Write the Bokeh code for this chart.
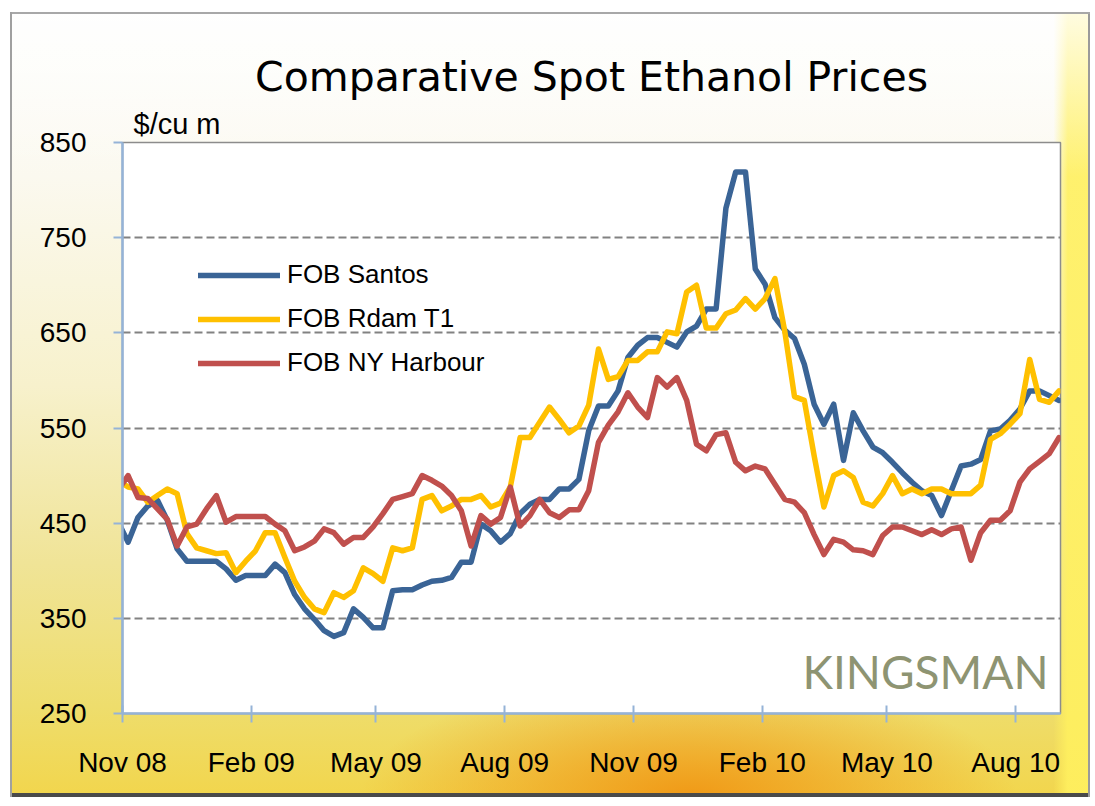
import pandas as pd
from bokeh.plotting import figure
from bokeh.models import FixedTicker, DatetimeTickFormatter, Legend, Label, Title, Range1d
from bokeh.embed import file_html
from bokeh.resources import INLINE
from bokeh.core.properties import value

# ---------------- data ----------------
title_text = "Comparative Spot Ethanol Prices"
unit_text = "$/cu m"
watermark_text = "KINGSMAN"
series_names = ["FOB Santos", "FOB Rdam T1", "FOB NY Harbour"]
first_week = "2008-10-29"   # weekly observations

santos = [451, 430, 456, 468, 474, 453, 423, 410, 410, 410,
          410, 402, 390, 395, 395, 395, 407, 398, 375, 360,
          349, 337, 331, 335, 360, 351, 340, 340, 379, 380,
          380, 385, 389, 390, 393, 409, 409, 449, 442, 430,
          439, 460, 470, 475, 475, 486, 486, 496, 547, 573,
          573, 589, 624, 637, 645, 645, 640, 635, 651, 657,
          675, 675, 781, 819, 819, 717, 701, 666, 653, 644,
          617, 575, 554, 575, 516, 566, 547, 530, 524, 514,
          503, 493, 484, 479, 458, 484, 510, 512, 517, 547,
          549, 558, 570, 589, 589, 584, 579]

rdam = [495, 488, 486, 472, 479, 486, 481, 439, 424, 421,
        418, 419, 398, 410, 421, 440, 440, 414, 389, 372,
        360, 356, 377, 372, 379, 403, 397, 389, 424, 421,
        424, 475, 479, 463, 468, 475, 475, 479, 467, 471,
        488, 540, 540, 556, 572, 559, 545, 552, 574, 633,
        601, 604, 621, 621, 630, 630, 651, 649, 693, 700,
        655, 655, 670, 674, 686, 675, 686, 707, 652, 583,
        579, 521, 467, 500, 505, 498, 472, 468, 481, 500,
        481, 486, 481, 486, 486, 481, 481, 481, 490, 538,
        544, 554, 565, 622, 580, 577, 589]

nyh = [485, 500, 477, 476, 465, 454, 426, 446, 449, 465,
       479, 451, 457, 457, 457, 457, 449, 442, 421, 425,
       431, 444, 440, 428, 435, 435, 446, 460, 475, 478,
       481, 500, 495, 489, 479, 463, 426, 458, 449, 456,
       488, 447, 458, 475, 461, 456, 464, 464, 484, 535,
       553, 567, 587, 572, 561, 603, 593, 603, 579, 533,
       526, 543, 545, 514, 505, 510, 507, 491, 475, 472,
       461, 438, 417, 433, 430, 422, 421, 417, 437, 446,
       446, 442, 438, 443, 438, 444, 446, 411, 440, 453,
       453, 463, 493, 507, 515, 523, 540]

y_ticks = [250, 350, 450, 550, 650, 750, 850]
x_tick_labels = ["Nov 08", "Feb 09", "May 09", "Aug 09",
                 "Nov 09", "Feb 10", "May 10", "Aug 10"]

series_colors = ["#3A6496", "#FFC000", "#C0504D"]

# ---------------- derived ----------------
dates = pd.date_range(first_week, periods=len(santos), freq="7D")
tick_dates = [pd.to_datetime(t, format="%b %y") for t in x_tick_labels]
tick_ms = [d.value / 1e6 for d in tick_dates]

TICK_FONT = "Liberation Sans"

p = figure(
    width=1094, height=804,
    x_axis_type="datetime",
    x_range=Range1d(tick_dates[0], dates[-1] + pd.Timedelta(days=1)),
    y_range=Range1d(y_ticks[0], y_ticks[-1]),
    output_backend="svg", toolbar_location=None,
    min_border_left=122, min_border_right=34,
    min_border_top=142, min_border_bottom=91,
)

# backgrounds
p.border_fill_color = None
p.background_fill_color = "white"
p.outline_line_color = "#8C8C8C"
p.outline_line_width = 1.5
p.styles = {
    "background-image": (
        "radial-gradient(ellipse 30% 15% at 63% 99%, rgba(240,150,20,0.95), rgba(243,170,30,0) 100%), "
        "linear-gradient(to bottom, rgba(255,255,255,0.85) 0%, rgba(255,255,255,0) 22%), "
        "linear-gradient(to right, rgba(255,245,120,0) 96.3%, rgba(255,240,95,0.9) 97.6%, rgba(255,240,95,0.9) 100%), "
        "linear-gradient(to bottom, #fdfdfb 0%, #fbf9ef 22%, #f7f1cc 48%, #f0e497 70%, #eedd6c 88%, #f2d54a 100%)"
    ),
    "box-shadow": (
        "inset 10px 0 0 0 #ffffff, inset 0 12px 0 0 #ffffff, "
        "inset -4px 0 0 0 #ffffff, inset 0 -7px 0 0 #ffffff, "
        "inset 12px 0 0 0 #a0a0a0, inset 0 14px 0 0 #a8a8a8, "
        "inset -6px 0 0 0 #9a9a9a, inset 0 -11px 0 0 #4a4a4a"
    ),
}

# lines
for vals, name, col in zip([santos, rdam, nyh], series_names, series_colors):
    p.line(dates, vals, line_color=col, line_width=5.5,
           line_join="round", line_cap="round", legend_label=name)

# title + unit
p.title.text = title_text
p.title.align = "center"
p.title.text_font = "DejaVu Sans"
p.title.text_font_size = "41px"
p.title.text_font_style = "normal"
p.title.text_color = "black"
p.title.standoff = 4

unit = Title(text=unit_text, align="left", offset=11,
             text_font=TICK_FONT, text_font_size="29px",
             text_font_style="normal", text_color="black", standoff=6)
p.add_layout(unit, "above")

# axes
for ax in (p.xaxis[0], p.yaxis[0]):
    ax.axis_line_color = "#95B3D7"
    ax.axis_line_width = 2.5
    ax.major_tick_line_color = "#95B3D7"
    ax.major_tick_line_width = 2
    ax.minor_tick_line_color = None
    ax.major_label_text_font = TICK_FONT
    ax.major_label_text_font_size = "28px"
    ax.major_label_text_color = "black"

p.yaxis.ticker = FixedTicker(ticks=y_ticks)
p.yaxis.major_tick_in = 0
p.yaxis.major_tick_out = 9
p.yaxis.major_label_standoff = 27

p.xaxis.ticker = FixedTicker(ticks=tick_ms)
p.xaxis.formatter = DatetimeTickFormatter(
    months="%b %y", days="%b %y", years="%b %y", hours="%b %y")
p.xaxis.major_tick_in = 8
p.xaxis.major_tick_out = 9
p.xaxis.major_label_standoff = 24

# grid
p.xgrid.grid_line_color = None
p.ygrid.ticker = FixedTicker(ticks=y_ticks)
p.ygrid.grid_line_color = "#828282"
p.ygrid.grid_line_width = 2
p.ygrid.grid_line_dash = "8 4"

# legend
leg = p.legend[0]
leg.location = (76, 335)
leg.background_fill_color = None
leg.border_line_color = None
leg.padding = 0
leg.margin = 0
leg.spacing = 13
leg.glyph_width = 82
leg.glyph_height = 30
leg.label_height = 30
leg.label_standoff = 7
leg.label_text_font = TICK_FONT
leg.label_text_font_size = "26px"
leg.label_text_color = "black"

# watermark
wm = Label(x=926, y=42, x_units="screen", y_units="screen",
           text=watermark_text, text_align="right", text_baseline="alphabetic",
           text_font="Lato", text_font_size="46px",
           text_color="#8E9472")
p.add_layout(wm)

open("out.html", "w").write(file_html(p, INLINE))
